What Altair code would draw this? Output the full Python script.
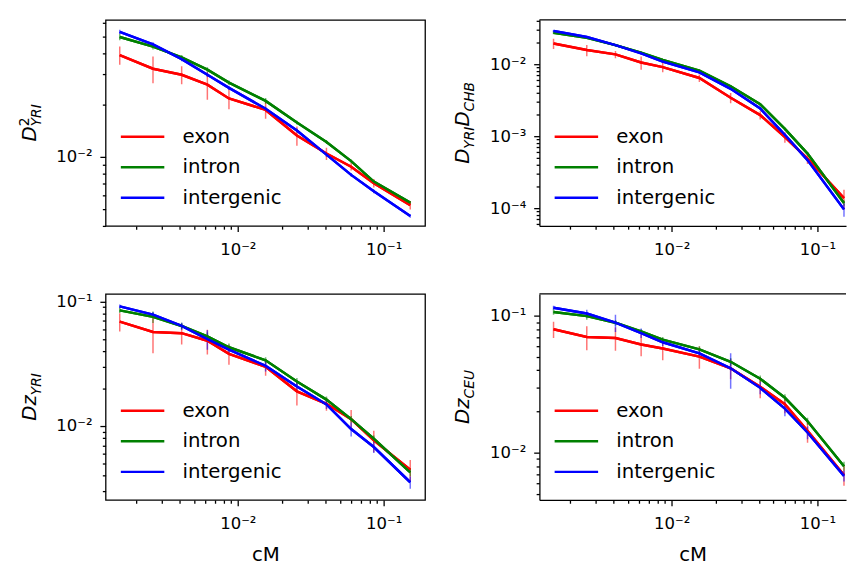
import altair as alt
import pandas as pd

# ---------------- data ----------------
CM = [0.00155, 0.00262, 0.00412, 0.00618, 0.00869, 0.0155, 0.0254, 0.0405, 0.0598, 0.0855, 0.152]
REGIONS = ["exon", "intron", "intergenic"]
COLORS = ["#ff0000", "#008000", "#0000ff"]

# D^2 YRI (top left)
TL_EXON = [0.0389, 0.0324, 0.0299, 0.0262, 0.0218, 0.0187, 0.0133, 0.01045, 0.00877, 0.00704, 0.00525]
TL_EXON_ERR = [0.0047, 0.0057, 0.0036, 0.0048, 0.0029, 0.0021, 0.0017, 0.00085, 0.00044, 0.0004, 0.0003]
TL_INTRON = [0.0495, 0.0435, 0.0377, 0.0320, 0.0269, 0.0211, 0.0158, 0.0122, 0.00945, 0.00719, 0.00543]
TL_INTRON_ERR = [0.0022, 0.0016, 0.0012, 0.0011, 0.0008, 0.0008, 0.0004, 0.0003, 0.0002, 0.00015, 0.0001]
TL_INTERG = [0.0530, 0.0448, 0.0368, 0.0299, 0.0251, 0.0190, 0.01422, 0.0103, 0.00786, 0.00631, 0.00454]
TL_INTERG_ERR = [0.0015, 0.0014, 0.0010, 0.0009, 0.0007, 0.0005, 0.0004, 0.0003, 0.0002, 0.00015, 0.0001]

# D YRI D CHB (top right)
TR_EXON = [0.0194, 0.0157, 0.0137, 0.01054, 0.0091, 0.00643, 0.00342, 0.00196, 0.00097, 0.000489, 0.000138]
TR_EXON_ERR = [0.0031, 0.0028, 0.0016, 0.0022, 0.0014, 0.00077, 0.00055, 0.00026, 0.00016, 0.000078, 0.000042]
TR_INTRON = [0.0272, 0.0232, 0.0184, 0.01445, 0.01146, 0.0081, 0.00494, 0.00277, 0.00126, 0.000573, 0.000118]
TR_INTRON_ERR = [0.0012, 0.0008, 0.0006, 0.0006, 0.0004, 0.0003, 0.0002, 0.0001, 0.00006, 0.00003, 0.00001]
TR_INTERG = [0.0289, 0.0239, 0.0184, 0.01416, 0.01088, 0.00769, 0.00455, 0.00242, 0.00104, 0.000465, 0.000096]
TR_INTERG_ERR = [0.0010, 0.0007, 0.0006, 0.0005, 0.0004, 0.0003, 0.0002, 0.0001, 0.00005, 0.00003, 0.00002]

# Dz YRI (bottom left)
BL_EXON = [0.0689, 0.0570, 0.0557, 0.0484, 0.0380, 0.0299, 0.0190, 0.0151, 0.01136, 0.00767, 0.00446]
BL_EXON_ERR = [0.0115, 0.0186, 0.0105, 0.0108, 0.0069, 0.0046, 0.0044, 0.0018, 0.0021, 0.0015, 0.00089]
BL_INTRON = [0.0849, 0.0753, 0.0636, 0.0524, 0.0429, 0.0337, 0.0228, 0.0163, 0.01136, 0.00791, 0.00425]
BL_INTRON_ERR = [0.004, 0.008, 0.004, 0.004, 0.003, 0.002, 0.0015, 0.001, 0.0007, 0.0005, 0.0003]
BL_INTERG = [0.0914, 0.0785, 0.0636, 0.0499, 0.0411, 0.0304, 0.0208, 0.0149, 0.00946, 0.00679, 0.00354]
BL_INTERG_ERR = [0.003, 0.004, 0.004, 0.009, 0.003, 0.003, 0.002, 0.0012, 0.0012, 0.0007, 0.0004]

# Dz CEU (bottom right)
BR_EXON = [0.0798, 0.0700, 0.0689, 0.0617, 0.0578, 0.0504, 0.0414, 0.0303, 0.0226, 0.01445, 0.00689]
BR_EXON_ERR = [0.0108, 0.014, 0.0133, 0.011, 0.0105, 0.0093, 0.007, 0.0053, 0.0032, 0.0026, 0.00115]
BR_INTRON = [0.1068, 0.0995, 0.0891, 0.0769, 0.0670, 0.0569, 0.0462, 0.0347, 0.0252, 0.0170, 0.00798]
BR_INTRON_ERR = [0.005, 0.006, 0.004, 0.003, 0.003, 0.003, 0.003, 0.002, 0.0015, 0.001, 0.0006]
BR_INTERG = [0.1146, 0.1039, 0.0891, 0.0748, 0.0641, 0.0532, 0.0414, 0.0298, 0.0210, 0.01406, 0.00678]
BR_INTERG_ERR = [0.004, 0.007, 0.0128, 0.006, 0.004, 0.004, 0.012, 0.003, 0.0025, 0.0015, 0.0006]

# left panels show the full x range; right panels are cut by the window edge
X_DOMAIN_LEFT = [0.00124, 0.192]
X_DOMAIN_RIGHT = [0.00124, 0.157]
TL_DOMAIN = [0.00398, 0.0622]
TR_DOMAIN = [0.0000566, 0.0413]
BL_DOMAIN = [0.00255, 0.115]
BR_DOMAIN = [0.00452, 0.1445]

W_LEFT, W_RIGHT, H = 324, 311, 209
FONT = "DejaVu Sans"


def log_ticks(lo, hi):
    out = []
    for e in range(-6, 1):
        for m in range(1, 10):
            v = float(f"{m}e{e}")
            if lo <= v <= hi:
                out.append(v)
    return out


IS_MAJOR = "abs(log(datum.value)/LN10 - round(log(datum.value)/LN10)) < 0.001"
LABEL = ("(" + IS_MAJOR + ") ? ('10\u207b' + ['\u2070','\u00b9','\u00b2','\u00b3','\u2074','\u2075','\u2076']"
         "[-round(log(datum.value)/LN10)]) : ''")
TICK_SIZE = {"condition": {"test": IS_MAJOR, "value": 5.8}, "value": 3.3}
LABEL_SIZE = {"condition": {"test": IS_MAJOR, "value": 16.7}, "value": 0}


def make_df(vals, errs):
    rows = []
    for region, v, e in zip(REGIONS, vals, errs):
        for x, yv, ye in zip(CM, v, e):
            rows.append({"cM": x, "val": yv, "lo": yv - ye, "hi": yv + ye, "region": region})
    return pd.DataFrame(rows)


def panel(vals, errs, ydom, title_parts, xtitle, right):
    df = make_df(vals, errs)
    xdom = X_DOMAIN_RIGHT if right else X_DOMAIN_LEFT
    width = W_RIGHT if right else W_LEFT
    xaxis = alt.Axis(values=log_ticks(*xdom), labelExpr=LABEL, tickSize=TICK_SIZE,
                     labelFontSize=LABEL_SIZE, labelPadding=10, labelOverlap=False, labelFlush=False,
                     title=xtitle if xtitle else None, titleFontSize=20, titlePadding=13,
                     domain=right, domainColor="black", domainWidth=1.3)
    yaxis = alt.Axis(values=log_ticks(*ydom), labelExpr=LABEL, tickSize=TICK_SIZE,
                     labelFontSize=LABEL_SIZE, labelPadding=8, labelOverlap=False, labelFlush=False,
                     title=None, domain=right, domainColor="black", domainWidth=1.3)
    xs = alt.Scale(type="log", domain=xdom)
    ys = alt.Scale(type="log", domain=ydom)
    cs = alt.Scale(domain=REGIONS, range=COLORS)
    base = alt.Chart(df)
    lines = base.mark_line(strokeWidth=2.5, clip=True).encode(
        x=alt.X("cM:Q", scale=xs, axis=xaxis),
        y=alt.Y("val:Q", scale=ys, axis=yaxis),
        color=alt.Color(
            "region:N", scale=cs,
            legend=alt.Legend(orient="none", legendX=21, legendY=102, title=None,
                              symbolType="M-1.47,0H1.47", symbolSize=900, symbolStrokeWidth=2.5,
                              labelFontSize=20, labelFont=FONT, labelColor="black",
                              rowPadding=4, labelOffset=24),
        ),
    )
    rules = base.mark_rule(strokeWidth=1.5, strokeOpacity=0.55, clip=True).encode(
        x=alt.X("cM:Q", scale=xs, axis=xaxis),
        y=alt.Y("lo:Q", scale=ys, axis=yaxis),
        y2="hi:Q",
        color=alt.Color("region:N", scale=cs, legend=None),
    )
    total = max(p[1] + p[4] for p in title_parts)
    layers = [lines, rules, lines]
    for text, dx, dy, size, width_, style in title_parts:
        layers.append(
            alt.Chart(pd.DataFrame({"t": [text]})).mark_text(
                angle=270, align="left", baseline="alphabetic", font=FONT, fontSize=size,
                fontStyle=style, color="black", dx=dx, dy=dy,
            ).encode(text="t:N", x=alt.value(-71), y=alt.value(H / 2 + total / 2))
        )
    if right:
        layers.append(
            alt.Chart(pd.DataFrame({"t": [0]})).mark_rule(color="black", strokeWidth=1.3).encode(
                x=alt.value(0), x2=alt.value(width), y=alt.value(0))
        )
    ch = alt.layer(*layers).properties(width=width, height=H)
    if right:
        ch = ch.properties(view=alt.ViewBackground(stroke="transparent"))
    return ch


# title pieces: text, offset along text, baseline shift, size, advance width, style
TL_TITLE = [("D", 0, 0, 20, 15.4, "italic"), ("2", 15.4, -7, 14, 8.9, "normal"), ("YRI", 15.4, 5, 14, 22.4, "italic")]
TR_TITLE = [("D", 0, 0, 20, 15.4, "italic"), ("YRI", 15.4, 5, 14, 22.4, "italic"),
            ("D", 37.8, 0, 20, 15.4, "italic"), ("CHB", 53.2, 5, 14, 29.9, "italic")]
BL_TITLE = [("D", 0, 0, 20, 15.4, "italic"), ("z", 15.4, 0, 20, 10.5, "italic"), ("YRI", 25.9, 5, 14, 22.4, "italic")]
BR_TITLE = [("D", 0, 0, 20, 15.4, "italic"), ("z", 15.4, 0, 20, 10.5, "italic"), ("CEU", 25.9, 5, 14, 28.9, "italic")]

tl = panel([TL_EXON, TL_INTRON, TL_INTERG], [TL_EXON_ERR, TL_INTRON_ERR, TL_INTERG_ERR], TL_DOMAIN, TL_TITLE, None, False)
tr = panel([TR_EXON, TR_INTRON, TR_INTERG], [TR_EXON_ERR, TR_INTRON_ERR, TR_INTERG_ERR], TR_DOMAIN, TR_TITLE, None, True)
bl = panel([BL_EXON, BL_INTRON, BL_INTERG], [BL_EXON_ERR, BL_INTRON_ERR, BL_INTERG_ERR], BL_DOMAIN, BL_TITLE, "cM", False)
br = panel([BR_EXON, BR_INTRON, BR_INTERG], [BR_EXON_ERR, BR_INTRON_ERR, BR_INTERG_ERR], BR_DOMAIN, BR_TITLE, "cM", True)

chart = alt.concat(tl, tr, bl, br, columns=2, spacing={"row": 69, "column": 116}, bounds="flush").resolve_legend(
    color="independent").resolve_scale(color="independent").properties(
    padding={"left": 9, "top": 6, "right": 0, "bottom": 0}, background="white"
).configure_view(stroke="black", strokeWidth=1.3).configure_axis(
    labelFont=FONT, titleFont=FONT, labelColor="black", titleColor="black", tickColor="black",
    tickWidth=1.3, grid=False, titleFontWeight="normal"
)

chart.save("out.html", embed_options={"renderer": "svg", "actions": False})
